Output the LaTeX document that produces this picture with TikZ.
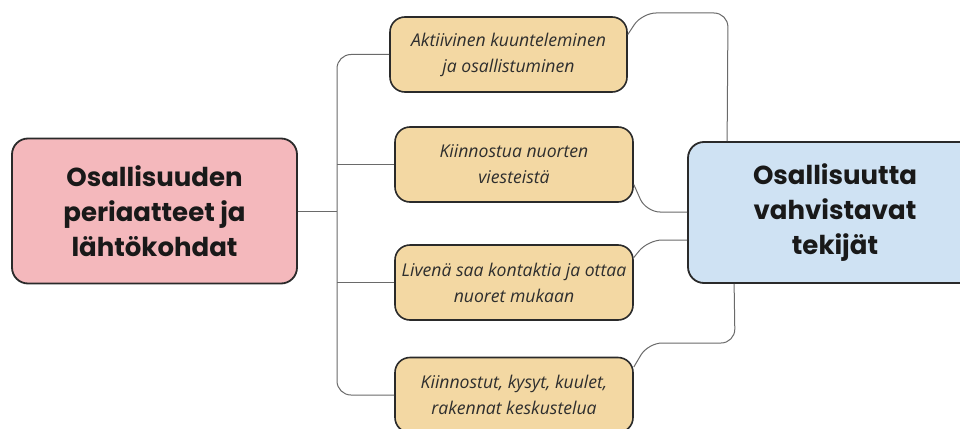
\documentclass[tikz,border=0pt]{standalone}
\usepackage{fontspec}
\setmainfont{Open Sans}
\newfontfamily\headfont{Poppins}
\usetikzlibrary{calc}
\definecolor{pinkfill}{HTML}{F4B8BC}
\definecolor{tanfill}{HTML}{F3D8A3}
\definecolor{bluefill}{HTML}{CFE2F3}
\definecolor{edgecol}{HTML}{2A2A2A}
\definecolor{linecol}{HTML}{6A6A6A}
\tikzset{
  headbox/.style={draw=edgecol, line width=1.8pt, rounded corners=16pt, align=center,
    font=\headfont\bfseries\fontsize{26}{35}\selectfont, text=black!90, inner sep=0pt},
  itembox/.style={draw=edgecol, line width=1.6pt, rounded corners=15pt, fill=tanfill,
    align=center, font=\itshape\fontsize{17.6}{26}\selectfont, text=black!82,
    minimum width=238pt, minimum height=75pt, inner sep=0pt},
  conn/.style={draw=linecol, line width=1pt, rounded corners=14pt},
}
\begin{document}
\begin{tikzpicture}[x=1pt,y=-1pt]
\useasboundingbox (0,0) rectangle (960,428);
\clip (0,0) rectangle (960,428);
\fill[white] (0,0) rectangle (960,428);

% nodes
\node[headbox, fill=pinkfill, minimum width=285pt, minimum height=145pt] (L) at (154.5,211)
  {Osallisuuden\\periaatteet ja\\lähtökohdat};
\node[headbox, fill=bluefill, minimum width=294pt, minimum height=141pt] (R) at (835,212.5)
  {Osallisuutta\\vahvistavat\\tekijät};
\node[itembox, minimum width=237pt] (B1) at (508.5,54.5) {Aktiivinen kuunteleminen\\ja osallistuminen};
\node[itembox] (B2) at (514,164.5) {Kiinnostua nuorten\\viesteistä};
\node[itembox] (B3) at (514,282.5) {Livenä saa kontaktia ja ottaa\\nuoret mukaan};
\node[itembox] (B4) at (514,395) {Kiinnostut, kysyt, kuulet,\\rakennat keskustelua};

% left tree
\coordinate (trunk) at (337,211);
\draw[conn] (L.east) -- (trunk);
\draw[conn] (B1.west) -- (B1.west -| trunk) -- (B4.west -| trunk) -- (B4.west);
\draw[conn] (B2.west -| trunk) -- (B2.west);
\draw[conn] (B3.west -| trunk) -- (B3.west);

% right connectors
\draw[conn] ($(B1.east)+(0,-20)$) -- (642,13) -- (728,13) -- ($(R.north west)+(40,0)$);
\draw[conn] ($(B2.east)+(0,20)$) -- (646,212) -- (R.west |- 0,212);
\draw[conn] ($(B3.east)+(0,-25)$) -- (648,240) -- (R.west |- 0,240);
\draw[conn] ($(B4.east)+(0,-28)$) -- (648,343) -- (735,343) -- ($(R.south west)+(47,0)$);
\end{tikzpicture}
\end{document}
